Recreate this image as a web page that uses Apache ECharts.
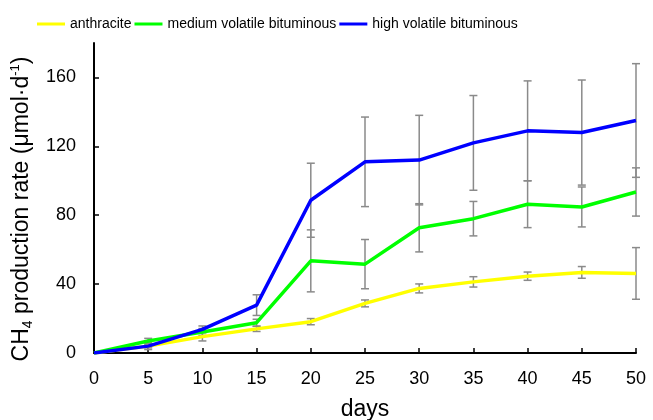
<!DOCTYPE html>
<html>
<head>
<meta charset="utf-8">
<script src="https://cdn.jsdelivr.net/npm/echarts@6/dist/echarts.min.js"></script>
<style>
  html, body { margin: 0; padding: 0; background: #fff; }
  #chart { width: 653px; height: 420px; }
</style>
</head>
<body>
<div id="chart"></div>
<script>
// days sampled
const days = [0, 5, 10, 15, 20, 25, 30, 35, 40, 45, 50]
// CH4 production rate, mean and error per series
const anthracite = [0, 4, 9.5, 14, 18.2, 28.8, 37.5, 41.3, 44.6, 46.8, 46.2]
const anthraciteErr = [0, 2, 2.5, 1.5, 1.8, 2, 2.6, 3, 2.4, 3.4, 15]
const medium = [0, 7, 12.2, 17.6, 53.5, 51.6, 72.7, 78, 86.4, 84.8, 93.5]
const mediumErr = [0, 1.5, 2, 2, 18, 14.3, 14, 10, 13.6, 11.6, 14]
const high = [0, 4, 13.7, 27.8, 88.7, 111, 112, 122, 129, 128, 135]
const highErr = [0, 1, 2, 6, 21.5, 26, 26, 27.5, 29, 30.5, 33]
const yTicks = [0, 40, 80, 120, 160]

const chart = echarts.init(document.getElementById('chart'))
const font = 'Liberation Sans, Arial, sans-serif'

function pairs(vals) {
  return days.map((d, i) => [d, vals[i]])
}
function errs(vals, e) {
  return days.map((d, i) => [d, vals[i] - e[i], vals[i] + e[i]]).filter((r, i) => e[i] > 0)
}

function errorBar(params, api) {
  const x = api.value(0)
  const lo = api.coord([x, api.value(1)])
  const hi = api.coord([x, api.value(2)])
  const w = 4
  const style = { stroke: '#8a8a8a', lineWidth: 1.5 }
  return {
    type: 'group',
    children: [
      { type: 'line', shape: { x1: hi[0], y1: hi[1], x2: lo[0], y2: lo[1] }, style },
      { type: 'line', shape: { x1: hi[0] - w, y1: hi[1], x2: hi[0] + w, y2: hi[1] }, style },
      { type: 'line', shape: { x1: lo[0] - w, y1: lo[1], x2: lo[0] + w, y2: lo[1] }, style }
    ]
  }
}

const names = ['anthracite', 'medium volatile bituminous', 'high volatile bituminous']
const colors = ['#ffff00', '#00ff00', '#0000ff']
const means = [anthracite, medium, high]
const errors = [anthraciteErr, mediumErr, highErr]

const series = []
means.forEach((m, i) => {
  series.push({
    type: 'custom',
    renderItem: errorBar,
    data: errs(m, errors[i]),
    z: 1,
    silent: true
  })
})
means.forEach((m, i) => {
  series.push({
    name: names[i],
    type: 'line',
    data: pairs(m),
    showSymbol: false,
    symbol: 'none',
    lineStyle: { color: colors[i], width: 3.5 },
    itemStyle: { color: colors[i] },
    z: 3 + i
  })
})

chart.setOption({
  animation: false,
  legend: {
    data: names,
    left: 32,
    top: 12,
    icon: 'rect',
    itemWidth: 28,
    itemHeight: 3,
    itemGap: 3,
    textStyle: { fontFamily: font, fontSize: 14, color: '#000' }
  },
  grid: { left: 94, right: 17, top: 43, bottom: 67, outerBoundsMode: 'none' },
  xAxis: {
    type: 'value',
    min: 0,
    max: 50,
    interval: 5,
    name: 'days',
    nameLocation: 'middle',
    nameGap: 45,
    nameTextStyle: { fontFamily: font, fontSize: 23, color: '#000' },
    splitLine: { show: false },
    axisLine: { lineStyle: { color: '#000', width: 2 } },
    axisTick: { inside: true, length: 5, lineStyle: { color: '#000', width: 1.5 } },
    axisLabel: { fontFamily: font, fontSize: 18, color: '#000', margin: 17 }
  },
  yAxis: {
    type: 'value',
    min: 0,
    max: 180,
    name: '{a|CH}{sub|4}{a| production rate (μmol·d}{sup|-1}{a|)}',
    nameLocation: 'middle',
    nameGap: 58,
    nameRotate: 90,
    nameTextStyle: {
      fontFamily: font,
      fontSize: 23,
      color: '#000',
      padding: [0, 22, 0, 0],
      rich: {
        a: { fontFamily: font, fontSize: 23, color: '#000', lineHeight: 26 },
        sub: { fontFamily: font, fontSize: 14, color: '#000', lineHeight: 14, verticalAlign: 'bottom' },
        sup: { fontFamily: font, fontSize: 13, color: '#000', lineHeight: 14, verticalAlign: 'top' }
      }
    },
    splitLine: { show: false },
    axisLine: { show: true, lineStyle: { color: '#000', width: 2 } },
    axisTick: { show: true, inside: true, length: 5, customValues: yTicks, lineStyle: { color: '#000', width: 1.5 } },
    axisLabel: { fontFamily: font, fontSize: 18, color: '#000', margin: 18, customValues: yTicks }
  },
  series
})
</script>
</body>
</html>
